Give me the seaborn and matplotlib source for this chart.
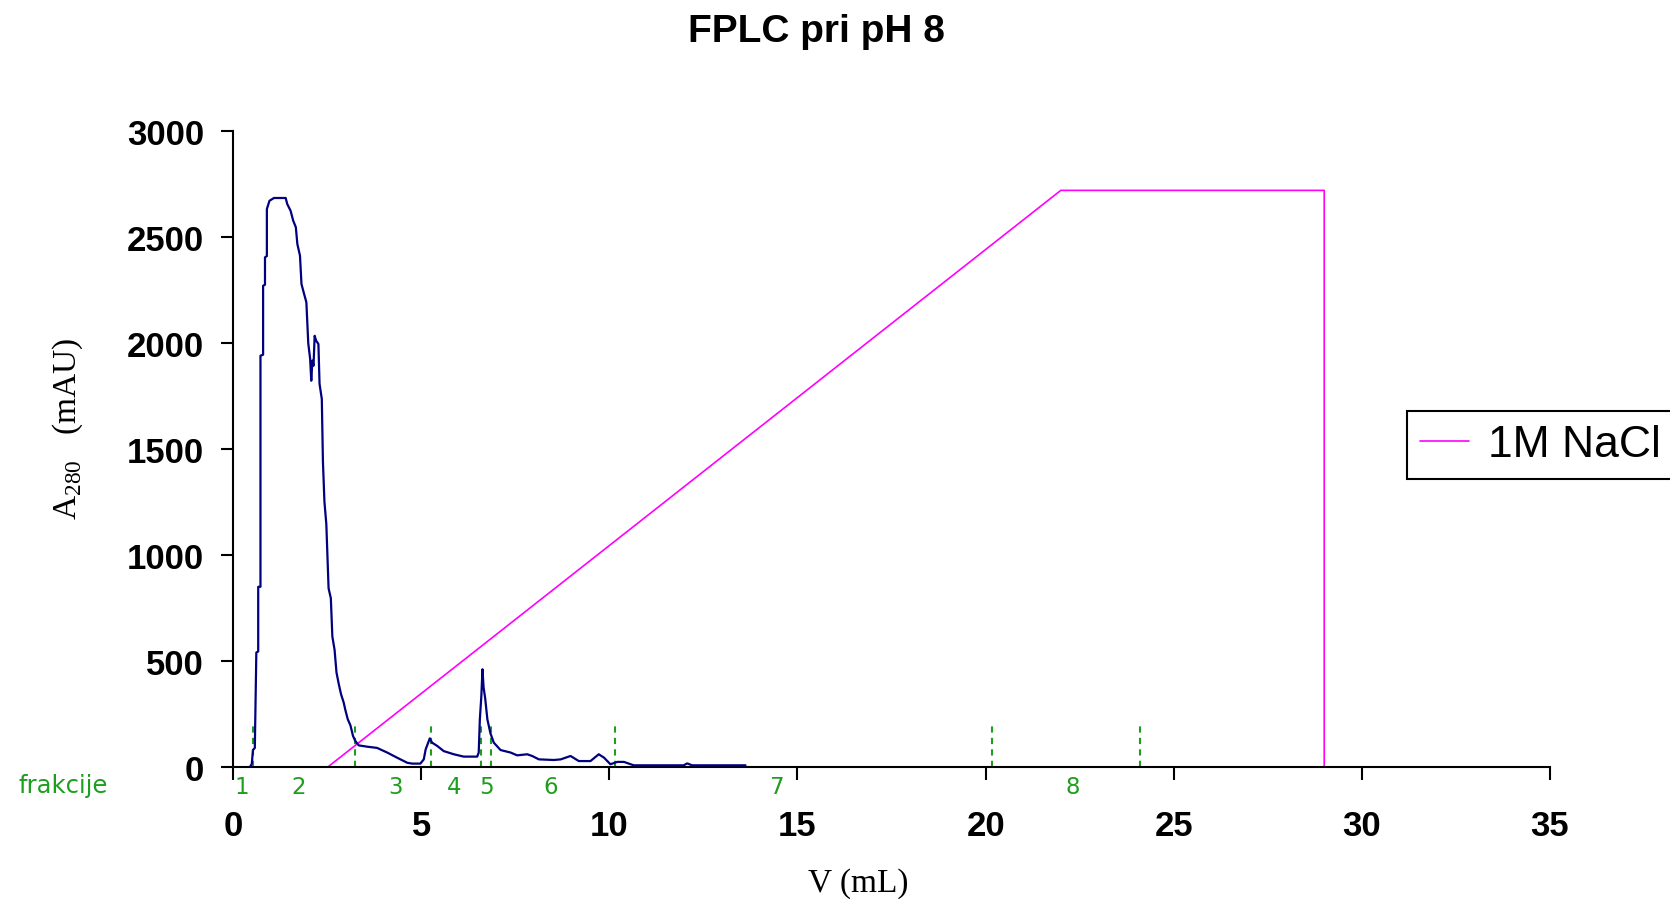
import numpy as np
import pandas as pd
import matplotlib
matplotlib.use("Agg")
import matplotlib.pyplot as plt
import seaborn as sns

# ---- data ----
a280_volume = [0.45, 0.50, 0.53, 0.58, 0.62, 0.67, 0.67, 0.73, 0.73, 0.80, 0.80, 0.85, 0.85, 0.90, 0.90,
               0.97, 1.09, 1.40, 1.44, 1.53, 1.60, 1.67, 1.71, 1.78, 1.82, 1.89, 1.95, 2.00, 2.05,
               2.08, 2.11, 2.14, 2.17, 2.21, 2.27, 2.30, 2.36, 2.39, 2.43, 2.48, 2.54, 2.60, 2.64,
               2.70, 2.75, 2.81, 2.87, 2.94, 2.99, 3.05, 3.12, 3.19, 3.25, 3.34, 3.56, 3.83, 4.10,
               4.36, 4.63, 4.76, 4.98, 5.07, 5.12, 5.23, 5.29, 5.43, 5.60, 5.87, 6.13, 6.49, 6.53,
               6.56, 6.60, 6.63, 6.66, 6.70, 6.76, 6.84, 6.93, 7.11, 7.38, 7.55, 7.82, 7.95, 8.13,
               8.53, 8.71, 8.97, 9.19, 9.50, 9.72, 9.86, 10.03, 10.21, 10.39, 10.65, 11.98, 12.07,
               12.20, 13.62]
a280_mau = [0, 15, 80, 90, 540, 545, 850, 850, 1940, 1945, 2270, 2275, 2404, 2410, 2632,
            2671, 2684, 2684, 2656, 2624, 2577, 2546, 2467, 2412, 2278, 2231, 2192, 1999, 1925,
            1822, 1917, 1893, 2034, 2011, 1995, 1807, 1736, 1440, 1251, 1146, 843, 796, 616,
            552, 446, 392, 344, 305, 266, 225, 197, 146, 123, 102, 96, 90, 68,
            44, 20, 16, 16, 36, 83, 135, 115, 99, 75, 60, 49, 49, 68,
            225, 335, 461, 374, 327, 225, 160, 115, 80, 68, 55, 60, 52, 36,
            33, 36, 52, 28, 28, 60, 44, 13, 24, 24, 8, 8, 17,
            8, 8]

nacl_volume = [2.52, 22.0, 29.0, 29.0]
nacl_value = [0, 2720, 2720, 0]

fraction_bounds = [0.53, 3.24, 5.26, 6.59, 6.85, 10.15, 20.16, 24.11]
fraction_labels = ["1", "2", "3", "4", "5", "6", "7", "8"]
fraction_label_pos = [0.24, 1.75, 4.33, 5.87, 6.73, 8.44, 14.43, 22.33]

x_ticks = [0, 5, 10, 15, 20, 25, 30, 35]
y_ticks = [0, 500, 1000, 1500, 2000, 2500, 3000]

df_a = pd.DataFrame({"V": a280_volume, "A": a280_mau})
df_n = pd.DataFrame({"V": nacl_volume, "A": nacl_value})

sns.set_theme(style="white")
plt.rcParams["font.family"] = ["Liberation Sans", "DejaVu Sans"]
plt.rcParams["text.color"] = "black"
plt.rcParams["axes.labelcolor"] = "black"
plt.rcParams["xtick.color"] = "black"
plt.rcParams["ytick.color"] = "black"

fig = plt.figure(figsize=(16.70, 9.04), dpi=100)
ax = fig.add_axes([233 / 1670, 1 - 768 / 904, (1550 - 233) / 1670, (768 - 132) / 904])

green = "#1e9e1e"
for b in fraction_bounds:
    ax.plot([b, b], [0, 200], color=green, lw=1.5, dashes=(3, 2.5), zorder=1)

sns.lineplot(data=df_a, x="V", y="A", sort=False, estimator=None, color="#000080",
             lw=1.6, ax=ax, legend=False, zorder=3)
sns.lineplot(data=df_n, x="V", y="A", sort=False, estimator=None, color="#ff00ff",
             lw=1.2, ax=ax, label="1M NaCl", zorder=2)

ax.set_xlim(0, 35)
ax.set_ylim(0, 3000)
ax.set_xticks(x_ticks)
ax.set_yticks(y_ticks)
ax.set_xlabel("")
ax.set_ylabel("")
for s in ["top", "right"]:
    ax.spines[s].set_visible(False)
for s in ["left", "bottom"]:
    ax.spines[s].set_color("black")
    ax.spines[s].set_linewidth(1.5)
ax.tick_params(axis="both", direction="out", length=9, width=1.5, color="black",
               labelsize=25, labelcolor="black", left=True, bottom=True)
ax.tick_params(axis="y", pad=12)
ax.tick_params(axis="x", pad=21)
for lab in ax.get_xticklabels() + ax.get_yticklabels():
    lab.set_fontweight("bold")

for xp, lab in zip(fraction_label_pos, fraction_labels):
    ax.text(xp, -90, lab, color=green, fontsize=16.5, ha="center", va="center",
            family="DejaVu Sans", clip_on=False)
fig.text(63 / 1670, 1 - 786 / 904, "frakcije", color=green, fontsize=17.5,
         family="DejaVu Sans", ha="center", va="center")

fig.text(816 / 1670, 1 - 32 / 904, "FPLC pri pH 8", fontsize=28, fontweight="bold",
         color="black", ha="center", va="center")
fig.text(858 / 1670, 1 - 884 / 904, "V (mL)", fontsize=24, family="Liberation Serif",
         color="black", ha="center", va="center")
fig.text(68 / 1670, 1 - 429 / 904, r"A$_{\mathregular{280}}$   (mAU)", fontsize=24,
         family="Liberation Serif", color="black", rotation=90, ha="center", va="center")

leg = ax.legend(loc="upper left", bbox_to_anchor=(1407 / 1670, 1 - 412 / 904),
                bbox_transform=fig.transFigure, borderaxespad=0, fontsize=32,
                frameon=True, fancybox=False, edgecolor="black", framealpha=1,
                handlelength=1.1, handletextpad=0.42, borderpad=0.3, labelcolor="black")
leg.get_frame().set_linewidth(1.5)

fig.savefig("out.png", dpi=100)
